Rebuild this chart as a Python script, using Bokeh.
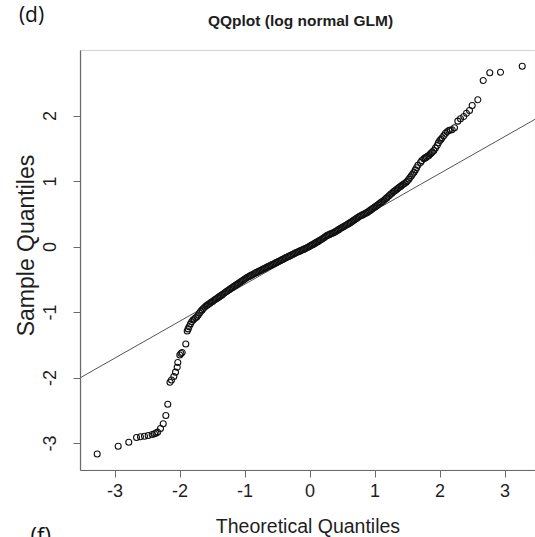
import math
from bokeh.plotting import figure
from bokeh.models import Range1d, FixedTicker, Label, BoxAnnotation, ColumnDataSource, LinearAxis
from bokeh.embed import file_html
from bokeh.resources import INLINE

# ---- data ----
low_tail_theoretical = [-3.274, -2.951, -2.788, -2.669, -2.608, -2.546, -2.489, -2.428, -2.392,
                        -2.369, -2.342, -2.300, -2.258, -2.218, -2.188, -2.154, -2.131, -2.095,
                        -2.069, -2.043, -2.034, -2.003, -1.985, -1.966, -1.911, -1.889, -1.874]
low_tail_sample = [-3.160, -3.043, -2.980, -2.908, -2.898, -2.889, -2.878, -2.863, -2.852,
                   -2.840, -2.827, -2.771, -2.699, -2.573, -2.400, -2.064, -2.031, -1.977,
                   -1.911, -1.835, -1.763, -1.649, -1.626, -1.611, -1.481, -1.282, -1.250]

body_theoretical = [-1.86, -1.84, -1.82, -1.80, -1.78, -1.76, -1.74, -1.72, -1.70, -1.68,
                    -1.66, -1.64, -1.62, -1.60, -1.58, -1.56, -1.54, -1.52, -1.50, -1.48,
                    -1.46, -1.44, -1.42, -1.40, -1.38, -1.36, -1.34, -1.32, -1.30, -1.28,
                    -1.26, -1.24, -1.22, -1.20, -1.18, -1.16, -1.14, -1.12, -1.10, -1.08,
                    -1.06, -1.04, -1.02, -1.00, -0.98, -0.96, -0.94, -0.92, -0.90, -0.88,
                    -0.86, -0.84, -0.82, -0.80, -0.78, -0.76, -0.74, -0.72, -0.70, -0.68,
                    -0.66, -0.64, -0.62, -0.60, -0.58, -0.56, -0.54, -0.52, -0.50, -0.48,
                    -0.46, -0.44, -0.42, -0.40, -0.38, -0.36, -0.34, -0.32, -0.30, -0.28,
                    -0.26, -0.24, -0.22, -0.20, -0.18, -0.16, -0.14, -0.12, -0.10, -0.08,
                    -0.06, -0.04, -0.02, 0.00, 0.02, 0.04, 0.06, 0.08, 0.10, 0.12,
                    0.14, 0.16, 0.18, 0.20, 0.22, 0.24, 0.26, 0.28, 0.30, 0.32,
                    0.34, 0.36, 0.38, 0.40, 0.42, 0.44, 0.46, 0.48, 0.50, 0.52,
                    0.54, 0.56, 0.58, 0.60, 0.62, 0.64, 0.66, 0.68, 0.70, 0.72,
                    0.74, 0.76, 0.78, 0.80, 0.82, 0.84, 0.86, 0.88, 0.90, 0.92,
                    0.94, 0.96, 0.98, 1.00, 1.02, 1.04, 1.06, 1.08, 1.10, 1.12,
                    1.14, 1.16, 1.18, 1.20, 1.22, 1.24, 1.26, 1.28, 1.30, 1.32,
                    1.34, 1.36, 1.38, 1.40, 1.42, 1.44, 1.46, 1.48, 1.50, 1.52,
                    1.54, 1.56, 1.58, 1.60, 1.62, 1.64, 1.66]
body_sample = [-1.217, -1.177, -1.142, -1.115, -1.099, -1.082, -1.065, -1.038, -1.008, -0.980,
               -0.960, -0.940, -0.920, -0.902, -0.888, -0.874, -0.860, -0.845, -0.831, -0.817,
               -0.803, -0.790, -0.776, -0.762, -0.748, -0.735, -0.721, -0.707, -0.692, -0.678,
               -0.664, -0.650, -0.636, -0.622, -0.609, -0.595, -0.582, -0.568, -0.555, -0.541,
               -0.528, -0.515, -0.502, -0.488, -0.475, -0.463, -0.452, -0.441, -0.430, -0.420,
               -0.409, -0.398, -0.388, -0.378, -0.368, -0.358, -0.348, -0.338, -0.328, -0.318,
               -0.308, -0.298, -0.288, -0.278, -0.268, -0.259, -0.249, -0.239, -0.229, -0.219,
               -0.209, -0.199, -0.189, -0.179, -0.169, -0.159, -0.149, -0.140, -0.130, -0.120,
               -0.110, -0.100, -0.090, -0.080, -0.072, -0.063, -0.054, -0.045, -0.037, -0.028,
               -0.018, -0.007, 0.004, 0.014, 0.025, 0.036, 0.047, 0.059, 0.071, 0.082,
               0.094, 0.106, 0.119, 0.132, 0.146, 0.159, 0.173, 0.183, 0.192, 0.201,
               0.209, 0.218, 0.229, 0.241, 0.253, 0.265, 0.277, 0.289, 0.300, 0.312,
               0.324, 0.336, 0.348, 0.360, 0.372, 0.386, 0.399, 0.413, 0.427, 0.440,
               0.454, 0.465, 0.476, 0.486, 0.496, 0.506, 0.517, 0.527, 0.541, 0.555,
               0.570, 0.584, 0.598, 0.612, 0.627, 0.641, 0.656, 0.670, 0.685, 0.699,
               0.714, 0.732, 0.750, 0.768, 0.786, 0.804, 0.821, 0.839, 0.855, 0.870,
               0.885, 0.900, 0.915, 0.930, 0.945, 0.959, 0.974, 0.989, 1.007, 1.034,
               1.060, 1.087, 1.114, 1.142, 1.177, 1.211, 1.246]

high_tail_theoretical = [1.700, 1.720, 1.751, 1.770, 1.790, 1.810, 1.828, 1.850, 1.866, 1.885,
                         1.905, 1.930, 1.957, 1.975, 1.997, 2.015, 2.034, 2.060, 2.085, 2.110,
                         2.135, 2.160, 2.188, 2.223, 2.274, 2.315, 2.366, 2.408, 2.454, 2.495,
                         2.582, 2.665, 2.766, 2.931, 3.265]
high_tail_sample = [1.290, 1.318, 1.347, 1.360, 1.372, 1.385, 1.397, 1.420, 1.435, 1.452,
                    1.473, 1.510, 1.550, 1.590, 1.626, 1.645, 1.667, 1.700, 1.737, 1.760,
                    1.779, 1.785, 1.789, 1.820, 1.921, 1.957, 1.992, 2.043, 2.084, 2.160,
                    2.247, 2.542, 2.660, 2.669, 2.760]

qqline_slope = 0.564
qqline_intercept = -0.003

x_ticks = [-3, -2, -1, 0, 1, 2, 3]
y_ticks = [-3, -2, -1, 0, 1, 2]
x_limits = (-3.53, 3.47)     # plotting box (R usr limits)
y_limits = (-3.41, 3.0)

title_text = "QQplot (log normal GLM)"
x_label = "Theoretical Quantiles"
y_label = "Sample Quantiles"
panel_letter_top = "(d)"
panel_letter_bottom = "(f)"

# ---- page geometry (the frame spans the whole canvas) ----
W, H = 535, 537
px_per_x, px_per_y = 65.0, 65.5
x0_px, y0_px = 309.5, 246.5          # pixel position of data (0, 0)
canvas_x = (-x0_px / px_per_x, (W - x0_px) / px_per_x)
canvas_y = ((y0_px - H) / px_per_y, y0_px / px_per_y)

theoretical = low_tail_theoretical + body_theoretical + high_tail_theoretical
sample = low_tail_sample + body_sample + high_tail_sample
src = ColumnDataSource(data=dict(x=theoretical, y=sample))

p = figure(width=W, height=H, output_backend="svg", toolbar_location=None,
           x_range=Range1d(*canvas_x), y_range=Range1d(*canvas_y),
           x_axis_location=None, y_axis_location=None,
           min_border=0, min_border_left=0, min_border_right=0,
           min_border_top=0, min_border_bottom=0)
p.title.text = ""
p.title.visible = False
p.outline_line_color = None
p.xgrid.visible = False
p.ygrid.visible = False
p.background_fill_color = "white"
p.border_fill_color = "white"

box_col = "#6a6a6a"
txt_col = "#1e1e1e"

xaxis = LinearAxis(fixed_location=y_limits[0], bounds=x_limits)
yaxis = LinearAxis(fixed_location=x_limits[0], bounds=y_limits)
p.add_layout(xaxis, "below")
p.add_layout(yaxis, "left")

for ax in (xaxis, yaxis):
    ax.axis_line_color = box_col
    ax.axis_line_width = 1.2
    ax.major_tick_line_color = box_col
    ax.major_tick_out = 7
    ax.major_tick_in = 0
    ax.minor_tick_line_color = None
    ax.major_label_text_font = "Liberation Sans"
    ax.major_label_text_font_size = "18px"
    ax.major_label_text_color = txt_col
    ax.axis_label_text_font = "Liberation Sans"
    ax.axis_label_text_font_style = "normal"
    ax.axis_label_text_color = txt_col

xaxis.ticker = FixedTicker(ticks=x_ticks)
yaxis.ticker = FixedTicker(ticks=y_ticks)
xaxis.major_label_overrides = {t: str(t) for t in x_ticks}
yaxis.major_label_overrides = {t: str(t) for t in y_ticks}
xaxis.axis_label = x_label
xaxis.axis_label_text_font_size = "19.5px"
xaxis.major_label_standoff = 7
xaxis.axis_label_standoff = 14
yaxis.major_label_orientation = "vertical"
yaxis.major_label_standoff = 18

# plotting box
p.add_layout(BoxAnnotation(left=x_limits[0], right=x_limits[1], bottom=y_limits[0], top=y_limits[1],
                           fill_alpha=0, fill_color=None, line_color=box_col, line_width=1.2,
                           level="underlay"))

# reference line (qqline) across the box
line_x = list(x_limits)
line_y = [qqline_intercept + qqline_slope * v for v in line_x]
p.line(line_x, line_y, line_color="#555555", line_width=1)

p.scatter("x", "y", source=src, marker="circle", size=6, fill_color=None,
          line_color="#111111", line_width=1.1)

# y axis title (as placed in the reference)
p.add_layout(Label(x=25, y=H - 245, x_units="screen", y_units="screen", text=y_label,
                   angle=math.pi / 2, text_align="center", text_baseline="middle",
                   text_font="Liberation Sans", text_font_size="23px", text_color=txt_col))

# title and panel letters (screen units from bottom-left of canvas)
p.add_layout(Label(x=300, y=H - 20, x_units="screen", y_units="screen", text=title_text,
                   text_align="center", text_baseline="middle", text_font="Liberation Sans",
                   text_font_style="bold", text_font_size="15.5px", text_color=txt_col))
p.add_layout(Label(x=31, y=H - 13, x_units="screen", y_units="screen", text=panel_letter_top,
                   text_align="center", text_baseline="middle", text_font="Open Sans",
                   text_font_size="21px", text_color="#111111"))
p.add_layout(Label(x=30, y=H - 518, x_units="screen", y_units="screen", text=panel_letter_bottom,
                   text_align="left", text_baseline="top", text_font="Open Sans",
                   text_font_size="22px", text_color="#111111"))

open("out.html", "w").write(file_html(p, INLINE))
